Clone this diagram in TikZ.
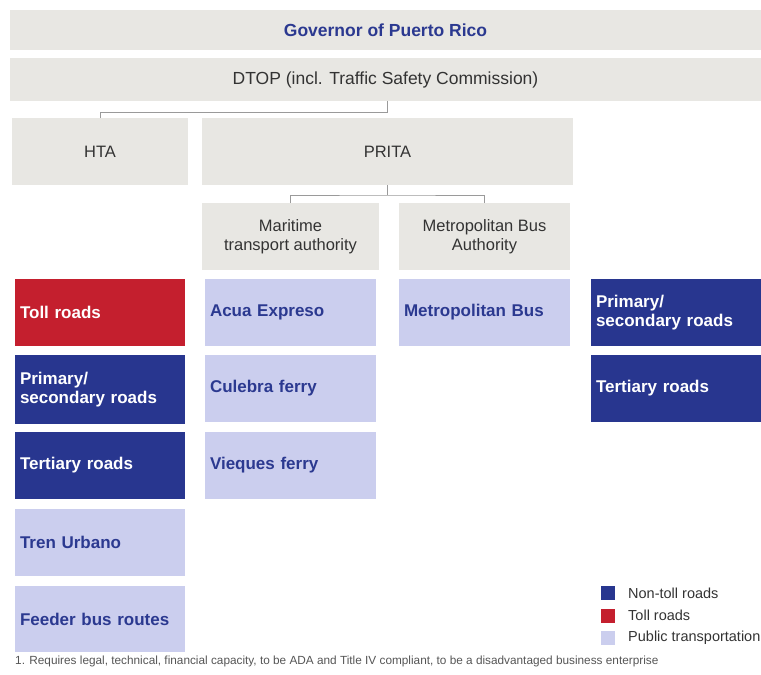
\documentclass[tikz,border=0pt]{standalone}
\usepackage{fontspec}
\setmainfont{Liberation Sans}
\definecolor{grayfill}{HTML}{E8E7E3}
\definecolor{graytext}{HTML}{333333}
\definecolor{navy}{HTML}{28368F}
\definecolor{tollred}{HTML}{C41F2E}
\definecolor{lav}{HTML}{CBCEEE}
\definecolor{bluetext}{HTML}{2B3990}
\definecolor{connc}{HTML}{9A9A9A}
\definecolor{notetext}{HTML}{555555}
\begin{document}
\begin{tikzpicture}[x=1pt,y=-1pt,
  base/.style={anchor=north west, inner sep=0pt, outer sep=0pt},
  graybox/.style={base, fill=grayfill, text=graytext, align=center,
    font=\fontsize{16.5}{18.5}\selectfont},
  cell/.style={base, inner xsep=5pt, align=left, minimum height=67pt,
    text width=160pt, font=\bfseries\fontsize{17}{19}\selectfont},
  navycell/.style={cell, fill=navy, text=white},
  redcell/.style={cell, fill=tollred, text=white},
  lavcell/.style={cell, fill=lav, text=bluetext},
  conn/.style={draw=connc, line width=0.9pt},
  legsq/.style={base, fill=#1, minimum width=14pt, minimum height=14pt},
  legtext/.style={anchor=west, inner sep=0pt, text=graytext, font=\fontsize{14.5}{16}\selectfont}
]
\useasboundingbox (0,0) rectangle (761,675);

% top hierarchy
\node[graybox, minimum width=751pt, minimum height=40pt, text=bluetext,
  font=\bfseries\fontsize{17.5}{19}\selectfont] (gov) at (10,10) {Governor of Puerto Rico};
\node[graybox, minimum width=751pt, minimum height=43pt,
  font=\fontsize{17.5}{19}\selectfont] (dtop) at (10,58) {DTOP (incl. Traffic Safety Commission)};
\node[graybox, minimum width=176pt, minimum height=67pt] (hta) at (12,118) {HTA};
\node[graybox, minimum width=371pt, minimum height=67pt] (prita) at (202,118) {PRITA};
\node[graybox, minimum width=177pt, minimum height=67pt] (mar) at (202,203) {Maritime\\transport authority};
\node[graybox, minimum width=171pt, minimum height=67pt] (mba) at (399,203) {Metropolitan Bus\\Authority};

% connectors
\coordinate (j1) at (387.5,112);
\coordinate (j2) at (387.5,195);
\draw[conn] (hta.north) |- (j1) -- (dtop.south -| j1);
\draw[conn] (mar.north) |- (j2) -| (mba.north);
\draw[conn] (j2) -- (prita.south -| j2);

% HTA column
\node[redcell] (toll) at (15,279) {Toll roads};
\node[navycell, minimum height=69pt] (prim) at (15,355) {Primary/\\secondary roads};
\node[navycell] (tert) at (15,432) {Tertiary roads};
\node[lavcell] (tren) at (15,509) {Tren Urbano};
\node[lavcell, minimum height=66pt] (feed) at (15,586) {Feeder bus routes};

% Maritime column
\node[lavcell, text width=161pt] (acua) at (205,279) {Acua Expreso};
\node[lavcell, text width=161pt] (cul) at (205,355) {Culebra ferry};
\node[lavcell, text width=161pt] (vie) at (205,432) {Vieques ferry};

% Metropolitan bus
\node[lavcell, text width=161pt] (mbus) at (399,279) {Metropolitan Bus};

% right column
\node[navycell] (rprim) at (591,279) {Primary/\\secondary roads};
\node[navycell] (rtert) at (591,355) {Tertiary roads};

% legend
\node[legsq=navy] (lg1) at (601,586) {};
\node[legsq=tollred] (lg2) at (601,608.5) {};
\node[legsq=lav] (lg3) at (601,631) {};
\node[legtext] (lt1) at (628,593) {Non-toll roads};
\node[legtext] (lt2) at (628,615.5) {Toll roads};
\node[legtext] (lt3) at (628,638) {Public transportation};

% footnote
\node[anchor=west, inner sep=0pt, text=notetext, font=\fontsize{11.8}{13}\selectfont] (note) at (15,661)
  {1. Requires legal, technical, financial capacity, to be ADA and Title IV compliant, to be a disadvantaged business enterprise};
\end{tikzpicture}
\end{document}
